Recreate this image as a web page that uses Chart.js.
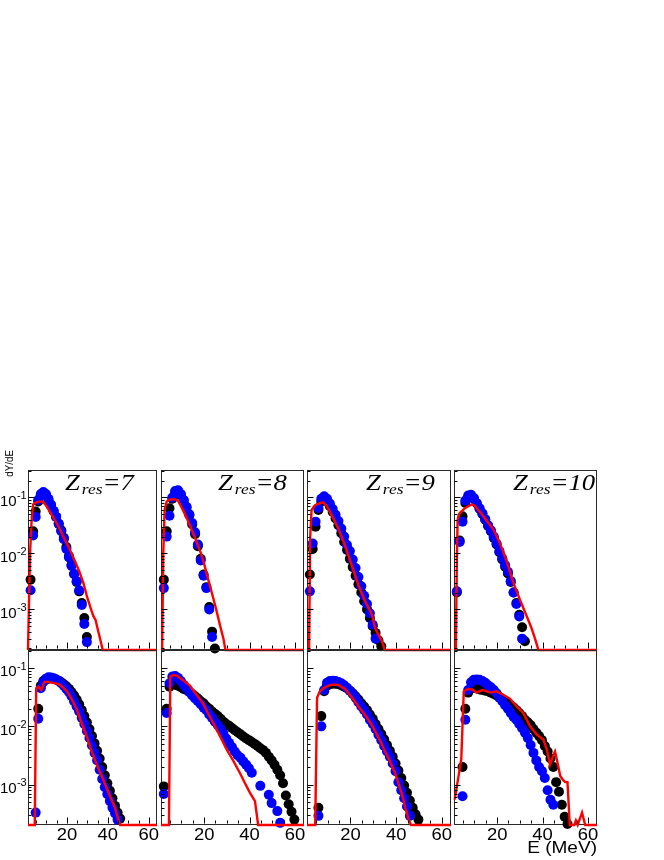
<!DOCTYPE html>
<html>
<head>
<meta charset="utf-8">
<script src="https://cdn.jsdelivr.net/npm/chart.js@4/dist/chart.umd.min.js"></script>
<style>
html,body{margin:0;padding:0;background:#fff;}
#wrap{position:relative;width:664px;height:860px;background:#fff;overflow:hidden;}
#wrap canvas{position:absolute;left:0;top:0;}
</style>
</head>
<body>
<div id="wrap"></div>
<script>
// ---------- data (bin energies in MeV) ----------
const energies = [2.25,3.5,4.75,6,7.25,8.5,9.75,11,12.25,13.5,14.75,16,17.25,18.5,19.75,21,22.25,23.5,24.75,26,27.25,28.5,29.75,31,32.25,33.5,34.75,36,37.25,38.5,39.75,41,42.25,43.5,44.75,46,47.25,48.5,49.75,51,52.25,53.5,54.75,56,57.25,58.5,59.75];

// upper row
const upperZ7Black = [3.4e-3,0.025,0.056,0.085,0.11,0.12,0.11,0.09,0.072,0.057,0.045,0.034,0.026,0.019,0.013,9e-3,6.2e-3,4.3e-3,3.1e-3,2.1e-3,1.3e-3,7e-4,3.2e-4];
const upperZ7Blue  = [2.2e-3,0.021,0.045,0.09,0.115,0.125,0.115,0.095,0.075,0.058,0.045,0.034,0.025,0.018,0.012,8.5e-3,6.0e-3,4.3e-3,3.2e-3,2.2e-3,1.2e-3,5.5e-4,2.6e-4];
const upperZ7RedE  = [1,1.4,2.0,2.7,3.5,5,7,8.5,10,12,14,16,18,20,22,24,26,28,30,32,33,34,35,36,37.5,64];
const upperZ7Red   = [0,0,0.01,0.035,0.075,0.082,0.085,0.083,0.070,0.053,0.040,0.030,0.021,0.015,0.0105,7.2e-3,4.8e-3,3.0e-3,1.6e-3,9.5e-4,7.5e-4,6.5e-4,4.5e-4,3.2e-4,0,0];

const upperZ8Black = [3.4e-3,0.025,0.064,0.095,0.125,0.13,0.11,0.088,0.066,0.048,0.033,0.022,0.0135,8e-3,4.2e-3,2.5e-3,1.1e-3,4e-4,2e-4];
const upperZ8Blue  = [2.4e-3,0.02,0.047,0.10,0.13,0.135,0.115,0.09,0.068,0.05,0.035,0.024,0.0145,7.5e-3,4.0e-3,2.4e-3,1.0e-3,3.2e-4];
const upperZ8RedE  = [1,1.5,2.0,2.6,3.5,5,7,8.5,10,12,14,16,18.6,20,22,24,25.3,27,28.5,29.4,64];
const upperZ8Red   = [0,0,0.01,0.06,0.085,0.092,0.093,0.088,0.068,0.046,0.030,0.019,0.01,6.5e-3,3.2e-3,1.6e-3,1.0e-3,5.2e-4,3.0e-4,0,0];

const upperZ9Black = [4.2e-3,0.012,0.03,0.06,0.085,0.095,0.085,0.07,0.055,0.042,0.032,0.023,0.016,0.0115,8e-3,5.7e-3,4e-3,2.8e-3,2e-3,1.4e-3,1e-3,7e-4,5e-4,3.8e-4,2.8e-4,2.2e-4];
const upperZ9Blue  = [2.1e-3,0.015,0.037,0.065,0.095,0.105,0.095,0.078,0.062,0.049,0.038,0.028,0.020,0.0142,0.011,7.8e-3,5.5e-3,3.8e-3,2.6e-3,1.75e-3,1.25e-3,8.5e-4,5.3e-4,3.0e-4];
const upperZ9RedE  = [1,1.9,2.4,3.0,4.4,6,8,9.5,11.7,14.7,17.6,20.6,23.5,26.4,29.4,30.8,32.3,33.8,35,64];
const upperZ9Red   = [0,0,0.02,0.06,0.072,0.078,0.082,0.072,0.049,0.028,0.014,6.1e-3,2.7e-3,1.4e-3,8.1e-4,4.7e-4,3.5e-4,2.7e-4,0,0];

const upperZ10Black = [2.0e-3,0.017,0.046,0.08,0.1,0.105,0.095,0.078,0.063,0.051,0.040,0.031,0.025,0.019,0.0145,0.0105,7.8e-3,5.8e-3,4.4e-3,3.1e-3,2.0e-3,1.3e-3,8e-4,4.8e-4,2.7e-4];
const upperZ10Blue  = [2.1e-3,0.016,0.037,0.088,0.108,0.112,0.098,0.08,0.064,0.052,0.041,0.032,0.026,0.020,0.015,0.011,8.2e-3,6.2e-3,4.7e-3,3.2e-3,2.0e-3,1.25e-3,7.5e-4,3.0e-4];
const upperZ10RedE  = [1,1.8,2.3,2.6,3.6,5.9,8.8,10,13.3,15.5,18.3,21,24,27,30,33,35,36.8,38.2,64];
const upperZ10Red   = [0,0,0.01,0.04,0.053,0.065,0.075,0.072,0.05,0.038,0.027,0.016,7.8e-3,3.1e-3,1.5e-3,7.6e-4,4.8e-4,2.9e-4,0,0];

// lower row
const lowerZ7Black = [null,null,null,0.020,0.05,0.06,0.064,0.066,0.067,0.066,0.064,0.061,0.057,0.053,0.049,0.044,0.039,0.034,0.029,0.024,0.019,0.015,0.0118,9e-3,6.8e-3,5.1e-3,3.8e-3,2.8e-3,2.0e-3,1.45e-3,1.05e-3,7.8e-4,5.8e-4,4.3e-4,3.3e-4,2.6e-4];
const lowerZ7Blue  = [null,null,3.3e-4,0.0135,0.045,0.058,0.066,0.070,0.069,0.067,0.064,0.060,0.055,0.050,0.044,0.039,0.033,0.027,0.022,0.018,0.014,0.011,8.3e-3,6.3e-3,4.7e-3,3.5e-3,2.6e-3,1.8e-3,1.25e-3,9e-4,6.8e-4,5.2e-4,4e-4,3.2e-4,2.5e-4];
const lowerZ7RedE  = [1,4.3,5.0,6.0,7.5,9,11,13,16,18,20,22,24.7,27,29.7,32,34.6,37.8,41.1,43.5,45,46,64];
const lowerZ7Red   = [0,0,0.045,0.048,0.042,0.058,0.058,0.056,0.053,0.047,0.040,0.031,0.020,0.012,6.7e-3,3.8e-3,2.2e-3,1.2e-3,6.3e-4,4.0e-4,2.6e-4,0,0];

const lowerZ8Black = [9.3e-4,0.020,0.048,0.054,0.052,0.050,0.047,0.044,0.042,0.039,0.036,0.033,0.030,0.027,0.025,0.022,0.020,0.018,0.0165,0.015,0.0135,0.012,0.011,0.0102,9.4e-3,8.6e-3,7.9e-3,7.3e-3,6.7e-3,6.2e-3,5.8e-3,5.4e-3,5.0e-3,4.6e-3,4.2e-3,3.9e-3,3.5e-3,3.0e-3,2.6e-3,2.2e-3,1.8e-3,1.45e-3,1.05e-3,6.5e-4,4.6e-4,3.4e-4,2.5e-4];
const lowerZ8Blue  = [6.9e-4,0.017,0.055,0.072,0.073,0.068,0.060,0.052,0.045,0.039,0.034,0.030,0.027,0.024,0.021,0.019,0.016,0.014,0.012,0.0105,9e-3,7.5e-3,6.2e-3,5.2e-3,4.4e-3,3.7e-3,3.2e-3,2.9e-3,2.5e-3,2.2e-3,1.9e-3,1.6e-3,null,null,9.5e-4,null,null,6.7e-4,4.8e-4,null,3.5e-4,2.2e-4];
const lowerZ8RedE  = [1,4.5,5.1,6.5,8,10,13.7,16.5,19.5,22,24,27,29.9,33,35.7,38,40.2,42.4,43.8,64];
const lowerZ8Red   = [0,0,0.072,0.076,0.074,0.065,0.050,0.036,0.025,0.016,0.0114,6.8e-3,4.0e-3,2.5e-3,1.6e-3,1.05e-3,7.2e-4,5.2e-4,0,0];

const lowerZ9Black = [null,null,null,4.0e-4,0.015,0.040,0.050,0.053,0.054,0.054,0.053,0.051,0.048,0.045,0.041,0.037,0.033,0.029,0.025,0.022,0.019,0.016,0.0135,0.011,9e-3,7.4e-3,6e-3,4.8e-3,3.8e-3,3.0e-3,2.3e-3,1.75e-3,1.3e-3,9.6e-4,7.2e-4,5.3e-4,4.0e-4,3.1e-4,2.5e-4];
const lowerZ9Blue  = [null,null,null,2.9e-4,0.010,0.042,0.056,0.060,0.061,0.060,0.058,0.055,0.051,0.046,0.041,0.036,0.031,0.026,0.022,0.019,0.016,0.013,0.011,9e-3,7.2e-3,5.8e-3,4.6e-3,3.7e-3,3.0e-3,2.3e-3,1.7e-3,1.1e-3,8e-4,5.8e-4,4.2e-4,2.9e-4];
const lowerZ9RedE  = [1,4.6,5.4,6.6,8.8,11.7,14.6,17.6,20.5,23.5,26.5,29.4,32.3,35.2,37.5,39.6,42.6,44,45.5,46.5,64];
const lowerZ9Red   = [0,0,0.031,0.040,0.047,0.052,0.052,0.044,0.032,0.022,0.0155,0.0105,6.4e-3,3.7e-3,2.4e-3,1.55e-3,6.7e-4,4.0e-4,2.5e-4,0,0];

const lowerZ10Black = [null,null,2.0e-3,0.020,0.038,0.045,0.046,0.045,0.043,0.042,0.041,0.040,0.038,0.036,0.034,0.032,0.029,0.027,0.025,0.023,0.021,0.019,0.017,0.015,0.013,0.0118,0.0105,9e-3,7.8e-3,6.8e-3,5.8e-3,4.6e-3,3.7e-3,2.8e-3,2.0e-3,1.1e-3,7.5e-4,4.5e-4,2.8e-4,2.1e-4];
const lowerZ10Blue  = [null,null,6.3e-4,0.013,0.042,0.057,0.063,0.064,0.063,0.060,0.056,0.051,0.047,0.042,0.037,0.031,0.027,0.023,0.020,0.017,0.0145,0.013,0.011,9.3e-3,7.8e-3,6.3e-3,4.8e-3,3.5e-3,2.6e-3,2.0e-3,1.7e-3,1.3e-3,8e-4,5.5e-4,4.5e-4];
const lowerZ10RedE  = [1.3,4.2,5.3,7,9,11,13.5,15.5,17,19.8,22.7,25.6,28.6,31.5,34.5,37.5,40.4,41.9,43.3,44.8,45.5,46.6,47.8,49,50,51,52,54,54.7,55.5,57.4,58.8,64];
const lowerZ10Red   = [5.5e-4,2.7e-3,0.040,0.044,0.043,0.038,0.042,0.040,0.038,0.040,0.035,0.030,0.022,0.017,0.010,7.2e-3,5.9e-3,4.0e-3,2.2e-3,3.2e-3,3.7e-3,2.4e-3,1.4e-3,1.2e-3,1.1e-3,1.1e-3,0,0,2.4e-4,0,3.3e-4,0,0];

// titles and ticks
const zLabels = ['7','8','9','10'];
const xTickValues = [5,10,15,20,25,30,35,40,45,50,55,60];
const xLabelValues = [20,40,60];
const xTickLabels = ['20','40','60'];
const yLabelValues = [1e-1,1e-2,1e-3];
const yTickExponents = ['-1','-2','-3'];
const yAxisTitle = 'dY/dE';
const xAxisTitle = 'E (MeV)';

// ---------- layout ----------
const W = 664, H = 860;
const colLeft = [28, 161, 307, 454];
const colRight = [157, 304, 451, 597];
const rowTop = [470, 650];
const rowBottom = [650, 825];
const rowYMin = [1.88e-4, 2.02e-4];
const rowYMax = [0.31, 0.205];
const X_MIN = 1, X_MAX = 64;
const titleX = [65, 218, 366, 513];
const MARKER_R = 5;

const panels = [
  {row:0,col:0,black:upperZ7Black,blue:upperZ7Blue,redE:upperZ7RedE,red:upperZ7Red},
  {row:0,col:1,black:upperZ8Black,blue:upperZ8Blue,redE:upperZ8RedE,red:upperZ8Red},
  {row:0,col:2,black:upperZ9Black,blue:upperZ9Blue,redE:upperZ9RedE,red:upperZ9Red},
  {row:0,col:3,black:upperZ10Black,blue:upperZ10Blue,redE:upperZ10RedE,red:upperZ10Red},
  {row:1,col:0,black:lowerZ7Black,blue:lowerZ7Blue,redE:lowerZ7RedE,red:lowerZ7Red},
  {row:1,col:1,black:lowerZ8Black,blue:lowerZ8Blue,redE:lowerZ8RedE,red:lowerZ8Red},
  {row:1,col:2,black:lowerZ9Black,blue:lowerZ9Blue,redE:lowerZ9RedE,red:lowerZ9Red},
  {row:1,col:3,black:lowerZ10Black,blue:lowerZ10Blue,redE:lowerZ10RedE,red:lowerZ10Red}
];

function toPoints(vals){
  const out = [];
  vals.forEach((v,i)=>{ if(v !== null && v !== undefined) out.push({x:energies[i], y:v}); });
  return out;
}
function toLine(xs, vals, floor){
  return xs.map((e,i)=>({x:e, y:Math.max(vals[i], floor)}));
}
function txt(ctx, s, x, y, font, align, sx){
  ctx.save();
  ctx.translate(x, y);
  ctx.scale(sx, 1);
  ctx.font = font;
  ctx.textAlign = align;
  ctx.textBaseline = 'alphabetic';
  ctx.fillStyle = '#000';
  ctx.fillText(s, 0, 0);
  ctx.restore();
}

function makeDecor(p){
  return {
    id: 'decor' + p.row + '_' + p.col,
    beforeDatasetsDraw(chart){
      const ctx = chart.ctx, a = chart.chartArea;
      const L = Math.round(a.left), R = Math.round(a.right), T = Math.round(a.top), B = Math.round(a.bottom);
      ctx.save();
      ctx.strokeStyle = '#2a2a2a';
      ctx.lineWidth = 1;
      ctx.strokeRect(L + 0.5, T + 0.5, R - L - 1, B - T - 1);
      ctx.restore();
    },
    afterDatasetsDraw(chart){
      const ctx = chart.ctx, a = chart.chartArea, xs = chart.scales.x, ys = chart.scales.y;
      const L = Math.round(a.left), B = Math.round(a.bottom);
      ctx.save();
      ctx.strokeStyle = '#000';
      ctx.lineWidth = 1;
      ctx.beginPath();
      xTickValues.forEach(v=>{
        const px = Math.round(xs.getPixelForValue(v)) + 0.5;
        const len = xLabelValues.includes(v) ? 6 : 3;
        ctx.moveTo(px, B - 1.5);
        ctx.lineTo(px, B - 1.5 - len);
      });
      const ymin = rowYMin[p.row], ymax = rowYMax[p.row];
      [1e-4,1e-3,1e-2,1e-1].forEach(d=>{
        for(let k=1;k<=9;k++){
          const v = k*d;
          if(v < ymin || v > ymax) continue;
          const py = Math.round(ys.getPixelForValue(v)) + 0.5;
          const len = k === 1 ? 6 : 3;
          ctx.moveTo(L + 0.5, py);
          ctx.lineTo(L + 0.5 + len, py);
        }
      });
      ctx.stroke();
      if(p.col === 0){
        yLabelValues.forEach((v,i)=>{
          const py = ys.getPixelForValue(v);
          txt(ctx, '10', 16.7, py + 8.3, '15px "Liberation Sans", Arial, sans-serif', 'right', 1);
          txt(ctx, yTickExponents[i], 16.9, py + 1.4, '11px "Liberation Sans", Arial, sans-serif', 'left', 1);
        });
      }
      if(p.row === 1){
        xLabelValues.forEach((v,i)=>{
          const px = xs.getPixelForValue(v);
          txt(ctx, xTickLabels[i], px, 839.5, '16px "Liberation Sans", Arial, sans-serif', 'center', 1.15);
        });
      }
      if(p.row === 0){
        const sx = 1.16;
        const big = 'italic 23px "Liberation Serif", "Times New Roman", serif';
        const small = 'italic 15px "Liberation Serif", "Times New Roman", serif';
        let cx = titleX[p.col];
        const base = 489.5;
        ctx.font = big;
        const wZ = ctx.measureText('Z').width * sx;
        txt(ctx, 'Z', cx, base, big, 'left', sx);
        cx += wZ + 2;
        ctx.font = small;
        const wr = ctx.measureText('res').width * sx;
        txt(ctx, 'res', cx, base + 4, small, 'left', sx);
        cx += wr;
        txt(ctx, '=' + zLabels[p.col], cx, base, big, 'left', sx);
      }
      if(p.row === 0 && p.col === 0){
        ctx.save();
        ctx.translate(13, 450);
        ctx.rotate(-Math.PI/2);
        ctx.scale(0.85, 1);
        ctx.font = '11.5px "Liberation Sans", Arial, sans-serif';
        ctx.textAlign = 'right';
        ctx.textBaseline = 'alphabetic';
        ctx.fillStyle = '#000';
        ctx.fillText(yAxisTitle, 0, 0);
        ctx.restore();
      }
      if(p.row === 1 && p.col === 3){
        txt(ctx, xAxisTitle, 597, 853, '17px "Liberation Sans", Arial, sans-serif', 'right', 1.12);
      }
      ctx.restore();
    }
  };
}

const wrap = document.getElementById('wrap');
panels.forEach(p=>{
  const c = document.createElement('canvas');
  c.width = W; c.height = H;
  c.style.width = W + 'px'; c.style.height = H + 'px';
  wrap.appendChild(c);
  const ymin = rowYMin[p.row], ymax = rowYMax[p.row];
  new Chart(c, {
    type: 'scatter',
    data: {
      datasets: [
        {label:'calc', data: toLine(p.redE, p.red, ymin), showLine:true, borderColor:'#ff0000', borderWidth:2.4,
         pointRadius:0, pointHoverRadius:0, fill:false, tension:0, clip:4, order:0},
        {label:'blue', data: toPoints(p.blue), pointRadius:MARKER_R, pointHoverRadius:MARKER_R, pointBackgroundColor:'#0000ff',
         backgroundColor:'#0000ff', pointBorderWidth:0, borderWidth:0, showLine:false, clip:8, order:1},
        {label:'black', data: toPoints(p.black), pointRadius:MARKER_R, pointHoverRadius:MARKER_R, pointBackgroundColor:'#000000',
         backgroundColor:'#000000', pointBorderWidth:0, borderWidth:0, showLine:false, clip:8, order:2}
      ]
    },
    options: {
      responsive:false, animation:false, devicePixelRatio:1, events:[],
      layout:{padding:{left:colLeft[p.col], right:W-colRight[p.col], top:rowTop[p.row], bottom:H-rowBottom[p.row]}},
      scales:{
        x:{type:'linear', min:X_MIN, max:X_MAX, display:false},
        y:{type:'logarithmic', min:ymin, max:ymax, display:false}
      },
      plugins:{legend:{display:false}, tooltip:{enabled:false}}
    },
    plugins:[makeDecor(p)]
  });
});
</script>
</body>
</html>
